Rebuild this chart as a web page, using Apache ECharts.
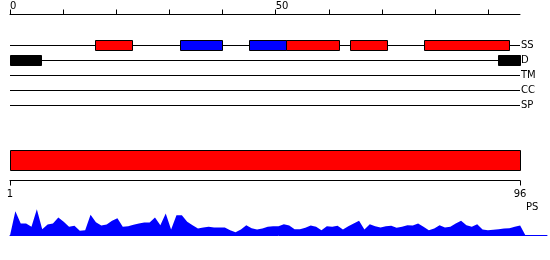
<!DOCTYPE html>
<html><head><meta charset="utf-8">
<script src="https://cdn.jsdelivr.net/npm/echarts@6.0.0/dist/echarts.min.js"></script>
<style>html,body{margin:0;padding:0;background:#fff}#c{width:550px;height:260px}</style>
</head><body><div id="c"></div>
<script>
// ---- data ----
const seqStart = 1;
const seqEnd = 96;
const trackNames = ['SS', 'D', 'TM', 'CC', 'SP'];
const helixSegments = [[16, 23], [52, 62], [64, 71], [78, 94]];
const strandSegments = [[32, 40], [45, 52]];
const disorderSegments = [[0, 6], [92, 96]];
const topTicks = [0, 10, 20, 30, 40, 50, 60, 70, 80, 90];
const topLabels = [0, 50];
const bottomTicks = [1, 96];
const psValues = [0,73,36,36,26,79,19,33,36,54,
  41,26,29,14,16,62,40,30,33,44,
  52,26,28,32,36,39,39,54,31,66,
  18,61,61,41,31,21,24,26,24,24,
  24,16,10,18,31,22,18,21,26,28,
  28,34,30,19,19,23,30,26,16,28,
  26,29,18,28,36,44,18,34,28,24,
  28,29,23,26,31,30,36,26,16,21,
  31,24,26,36,44,31,26,34,18,16,
  17,19,21,22,26,30,0];

// ---- build ----
const FONT = 'DejaVu Sans';
const kindColors = ['#ff0000', '#0000ff', '#000000'];
const segData = [];
helixSegments.forEach(s => segData.push([s[0], s[1], 0, 0]));
strandSegments.forEach(s => segData.push([s[0], s[1], 0, 1]));
disorderSegments.forEach(s => segData.push([s[0], s[1], 1, 2]));
const lineData = trackNames.map((n, i) => [0, seqEnd, i]);
const crisp = v => Math.round(v - 0.5) + 0.5;

const chart = echarts.init(document.getElementById('c'), null, {renderer: 'canvas'});
chart.setOption({
  animation: false,
  backgroundColor: '#fff',
  title: {text: 'PS', left: 526, top: 202, padding: 0,
    textStyle: {fontFamily: FONT, fontSize: 10, fontWeight: 'normal', color: '#000'}},
  grid: [
    {left: 10, width: 510, top: 38, height: 75},
    {left: 10, width: 510, top: 150.5, height: 30},
    {left: 10, width: 537, top: 205.5, height: 30}
  ],
  xAxis: [
    {gridIndex: 0, type: 'value', position: 'top', offset: 23.5, min: 0, max: seqEnd,
      axisLine: {show: true, lineStyle: {color: '#000', width: 1}},
      axisTick: {show: true, length: 5, customValues: topTicks, lineStyle: {color: '#000'}},
      axisLabel: {show: true, customValues: topLabels, align: 'left', margin: 3,
        fontFamily: FONT, fontSize: 10, color: '#000'},
      splitLine: {show: false}},
    {gridIndex: 1, type: 'value', position: 'bottom', min: seqStart, max: seqEnd,
      axisLine: {show: true, lineStyle: {color: '#000', width: 1}},
      axisTick: {show: true, length: 5, customValues: bottomTicks, lineStyle: {color: '#000'}},
      axisLabel: {show: true, customValues: bottomTicks, margin: 9,
        fontFamily: FONT, fontSize: 10, color: '#000'},
      splitLine: {show: false}},
    {gridIndex: 2, type: 'value', position: 'bottom', min: seqStart, max: 101,
      axisLine: {show: true, lineStyle: {color: '#0000ff', width: 1}},
      axisTick: {show: false}, axisLabel: {show: false}, splitLine: {show: false}}
  ],
  yAxis: [
    {gridIndex: 0, type: 'category', data: trackNames, inverse: true, position: 'right',
      axisLine: {show: false}, axisTick: {show: false}, splitLine: {show: false},
      axisLabel: {margin: 1, fontFamily: FONT, fontSize: 10, color: '#000'}},
    {gridIndex: 1, type: 'value', min: 0, max: 3, show: false},
    {gridIndex: 2, type: 'value', min: 0, max: 90, show: false}
  ],
  series: [
    {type: 'custom', xAxisIndex: 0, yAxisIndex: 0, data: lineData, encode: {x: [0, 1], y: 2},
      renderItem: (params, api) => {
        const s = api.coord([api.value(0), api.value(2)]);
        const e = api.coord([api.value(1), api.value(2)]);
        return {type: 'line', shape: {x1: s[0], y1: crisp(s[1]), x2: e[0], y2: crisp(e[1])},
          style: {stroke: '#000', lineWidth: 1}};
      }},
    {type: 'custom', xAxisIndex: 0, yAxisIndex: 0, data: segData, encode: {x: [0, 1], y: 2}, z: 3,
      renderItem: (params, api) => {
        const s = api.coord([api.value(0), api.value(2)]);
        const e = api.coord([api.value(1), api.value(2)]);
        const h = api.size([0, 1])[1] * 2 / 3;
        const x0 = crisp(s[0]), x1 = crisp(e[0]);
        return {type: 'rect', shape: {x: x0, y: crisp(s[1] - h / 2), width: x1 - x0, height: Math.round(h)},
          style: {fill: kindColors[api.value(3)], stroke: '#000', lineWidth: 1}};
      }},
    {type: 'custom', xAxisIndex: 1, yAxisIndex: 1, data: [[seqStart, seqEnd]], encode: {x: [0, 1]},
      renderItem: (params, api) => {
        const a = api.coord([api.value(0), 3]);
        const b = api.coord([api.value(1), 1]);
        const x0 = crisp(a[0]), x1 = crisp(b[0]), y0 = crisp(a[1]), y1 = crisp(b[1]);
        return {type: 'rect', shape: {x: x0, y: y0, width: x1 - x0, height: y1 - y0},
          style: {fill: '#ff0000', stroke: '#000', lineWidth: 1}};
      }},
    {type: 'line', xAxisIndex: 2, yAxisIndex: 2, symbol: 'none', smooth: false,
      data: psValues.map((v, i) => [seqStart + i, v]),
      lineStyle: {width: 0, color: '#0000ff'},
      areaStyle: {color: '#0000ff', opacity: 1}}
  ]
});
</script>
</body></html>
